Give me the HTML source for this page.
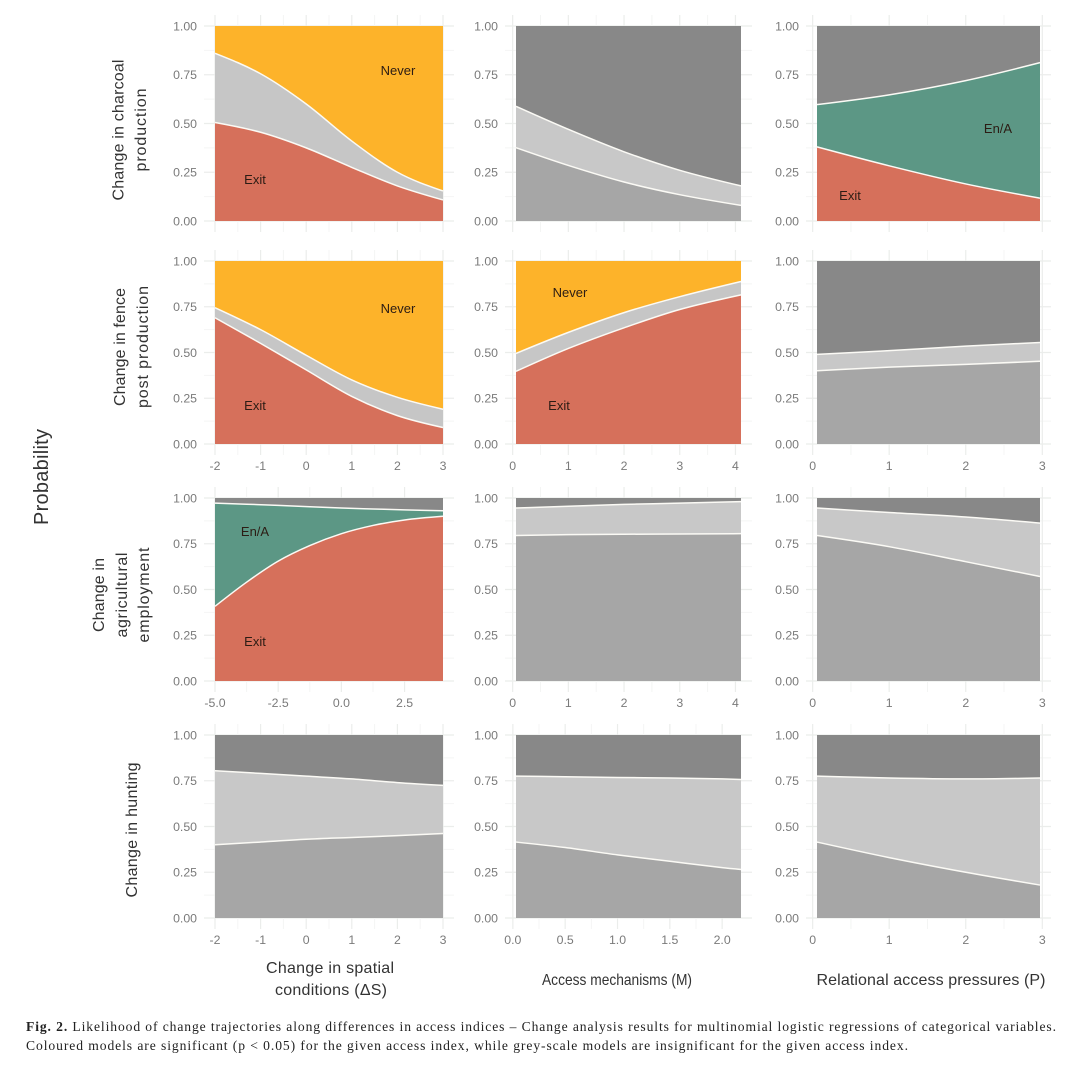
<!DOCTYPE html>
<html lang="en">
<head>
<meta charset="utf-8">
<title>Fig. 2 Likelihood of change trajectories</title>
<style>
html,body{margin:0;padding:0;background:#fff;}
svg{display:block;filter:blur(0.35px);}
.tick{font:12.3px "Liberation Sans",sans-serif;fill:#7a7a7a;}
.title{font-family:"Liberation Sans",sans-serif;font-size:16px;fill:#333;}
.band-label{font:13px "Liberation Sans",sans-serif;fill:#2c1c14;text-anchor:middle;}
.caption{font-family:"Liberation Serif",serif;font-size:13.6px;fill:#222;}
</style>
</head>
<body>
<svg id="figure" xmlns="http://www.w3.org/2000/svg" width="1080" height="1069" viewBox="0 0 1080 1069">
  <rect width="1080" height="1069" fill="#ffffff"/>
  <g id="annotations">
    <text class="title" transform="translate(48,477) rotate(-90)" text-anchor="middle" style="font-size:20px" textLength="96">Probability</text>
    <text class="title" transform="translate(123.5,130) rotate(-90)" text-anchor="middle" textLength="141">Change in charcoal</text>
    <text class="title" transform="translate(146,130) rotate(-90)" text-anchor="middle" textLength="83">production</text>
    <text class="title" transform="translate(125,347) rotate(-90)" text-anchor="middle" textLength="118">Change in fence</text>
    <text class="title" transform="translate(148,347) rotate(-90)" text-anchor="middle" textLength="122">post production</text>
    <text class="title" transform="translate(104,595) rotate(-90)" text-anchor="middle" textLength="74">Change in</text>
    <text class="title" transform="translate(127,595) rotate(-90)" text-anchor="middle" textLength="85">agricultural</text>
    <text class="title" transform="translate(149,595) rotate(-90)" text-anchor="middle" textLength="95">employment</text>
    <text class="title" transform="translate(137,830) rotate(-90)" text-anchor="middle" textLength="135">Change in hunting</text>
    <text class="title" x="330" y="973" text-anchor="middle" textLength="128">Change in spatial</text>
    <text class="title" x="331" y="995" text-anchor="middle" textLength="112">conditions (ΔS)</text>
    <text class="title" x="617" y="985" text-anchor="middle" textLength="150" lengthAdjust="spacingAndGlyphs">Access mechanisms (M)</text>
    <text class="title" x="931" y="985" text-anchor="middle" textLength="229">Relational access pressures (P)</text>
    <text class="band-label" x="398" y="75">Never</text>
    <text class="band-label" x="255" y="184">Exit</text>
    <text class="band-label" x="998" y="133">En/A</text>
    <text class="band-label" x="850" y="200">Exit</text>
    <text class="band-label" x="398" y="313">Never</text>
    <text class="band-label" x="255" y="410">Exit</text>
    <text class="band-label" x="570" y="297">Never</text>
    <text class="band-label" x="559" y="410">Exit</text>
    <text class="band-label" x="255" y="536">En/A</text>
    <text class="band-label" x="255" y="646">Exit</text>
    <text class="caption" x="26" y="1031" textLength="1030"><tspan font-weight="bold">Fig. 2.</tspan>  Likelihood of change trajectories along differences in access indices – Change analysis results for multinomial logistic regressions of categorical variables.</text>
    <text class="caption" x="26" y="1050" textLength="882">Coloured models are significant (p &lt; 0.05) for the given access index, while grey-scale models are insignificant for the given access index.</text>
  </g>
</svg>
<script>
// Shared tick arrays
const yTicks = [0, 0.25, 0.5, 0.75, 1];
const yTickLabels = ['0.00', '0.25', '0.50', '0.75', '1.00'];
const spatialTicks = [-2, -1, 0, 1, 2, 3];
const spatialTickLabels = ['-2', '-1', '0', '1', '2', '3'];
const agriSpatialTicks = [-5, -2.5, 0, 2.5];
const agriSpatialTickLabels = ['-5.0', '-2.5', '0.0', '2.5'];
const mechanismTicks = [0, 1, 2, 3, 4];
const mechanismTickLabels = ['0', '1', '2', '3', '4'];
const huntingMechanismTicks = [0, 0.5, 1, 1.5, 2];
const huntingMechanismTickLabels = ['0.0', '0.5', '1.0', '1.5', '2.0'];
const pressureTicks = [0, 1, 2, 3];
const pressureTickLabels = ['0', '1', '2', '3'];

// Charcoal row
const charcoalSpatialX = [-2, -1, 0, 1, 2, 3];
const charcoalSpatialLower = [0.505, 0.455, 0.375, 0.275, 0.18, 0.108];
const charcoalSpatialUpper = [0.86, 0.755, 0.6, 0.41, 0.25, 0.154];
const charcoalMechanismX = [0.06, 1, 2, 3, 4.1];
const charcoalMechanismLower = [0.376, 0.285, 0.2, 0.135, 0.08];
const charcoalMechanismUpper = [0.588, 0.47, 0.355, 0.26, 0.18];
const charcoalPressureX = [0.057, 1, 2, 2.97];
const charcoalPressureLower = [0.38, 0.283, 0.19, 0.117];
const charcoalPressureUpper = [0.597, 0.647, 0.72, 0.812];

// Fence post row
const fenceSpatialX = [-2, -1, 0, 1, 2, 3];
const fenceSpatialLower = [0.69, 0.55, 0.405, 0.26, 0.155, 0.09];
const fenceSpatialUpper = [0.745, 0.625, 0.485, 0.35, 0.255, 0.19];
const fenceMechanismX = [0.06, 1, 2, 3, 4.1];
const fenceMechanismLower = [0.397, 0.522, 0.635, 0.735, 0.815];
const fenceMechanismUpper = [0.495, 0.61, 0.718, 0.805, 0.888];
const fencePressureX = [0.057, 1, 2, 2.97];
const fencePressureLower = [0.4, 0.42, 0.435, 0.452];
const fencePressureUpper = [0.49, 0.51, 0.535, 0.555];

// Agricultural employment row
const agriSpatialX = [-5, -3.75, -2.5, -1.25, 0, 1.25, 2.5, 4.02];
const agriSpatialLower = [0.408, 0.54, 0.655, 0.74, 0.805, 0.85, 0.88, 0.9];
const agriSpatialUpper = [0.972, 0.966, 0.96, 0.952, 0.945, 0.94, 0.935, 0.93];
const agriMechanismX = [0.06, 1, 2, 3, 4.1];
const agriMechanismLower = [0.795, 0.8, 0.802, 0.803, 0.805];
const agriMechanismUpper = [0.945, 0.955, 0.965, 0.972, 0.98];
const agriPressureX = [0.057, 1, 2, 2.97];
const agriPressureLower = [0.795, 0.734, 0.652, 0.571];
const agriPressureUpper = [0.945, 0.921, 0.896, 0.863];

// Hunting row
const huntingSpatialX = [-2, -1, 0, 1, 2, 3];
const huntingSpatialLower = [0.4, 0.415, 0.43, 0.44, 0.45, 0.462];
const huntingSpatialUpper = [0.805, 0.79, 0.775, 0.76, 0.74, 0.725];
const huntingMechanismX = [0.03, 0.5, 1, 1.5, 2, 2.18];
const huntingMechanismLower = [0.415, 0.385, 0.345, 0.31, 0.275, 0.265];
const huntingMechanismUpper = [0.775, 0.772, 0.768, 0.765, 0.76, 0.757];
const huntingPressureX = [0.057, 1, 2, 2.97];
const huntingPressureLower = [0.415, 0.33, 0.25, 0.18];
const huntingPressureUpper = [0.775, 0.765, 0.76, 0.765];

const RED = '#d6705b', ORANGE = '#fdb32a', SILVER = '#c6c6c6', GREEN = '#5c9785';
const GREY_LOW = '#a6a6a6', GREY_MID = '#c8c8c8', GREY_TOP = '#888888';
const warm = [RED, SILVER, ORANGE];
const teal = [RED, GREEN, GREY_TOP];
const greys = [GREY_LOW, GREY_MID, GREY_TOP];

const rowBoxes = [[26, 221], [261, 444], [498, 681], [735, 918]];
const colBoxes = [[215, 443], [516, 741], [817, 1040]];

const panels = [
  {name: 'charcoal-spatial', r: 0, c: 0, x: charcoalSpatialX, lo: charcoalSpatialLower, up: charcoalSpatialUpper, ticks: spatialTicks, labels: null, fills: warm},
  {name: 'charcoal-mechanisms', r: 0, c: 1, x: charcoalMechanismX, lo: charcoalMechanismLower, up: charcoalMechanismUpper, ticks: mechanismTicks, labels: null, fills: greys},
  {name: 'charcoal-pressures', r: 0, c: 2, x: charcoalPressureX, lo: charcoalPressureLower, up: charcoalPressureUpper, ticks: pressureTicks, labels: null, fills: teal},
  {name: 'fence-spatial', r: 1, c: 0, x: fenceSpatialX, lo: fenceSpatialLower, up: fenceSpatialUpper, ticks: spatialTicks, labels: spatialTickLabels, fills: warm},
  {name: 'fence-mechanisms', r: 1, c: 1, x: fenceMechanismX, lo: fenceMechanismLower, up: fenceMechanismUpper, ticks: mechanismTicks, labels: mechanismTickLabels, fills: warm},
  {name: 'fence-pressures', r: 1, c: 2, x: fencePressureX, lo: fencePressureLower, up: fencePressureUpper, ticks: pressureTicks, labels: pressureTickLabels, fills: greys},
  {name: 'agriculture-spatial', r: 2, c: 0, x: agriSpatialX, lo: agriSpatialLower, up: agriSpatialUpper, ticks: agriSpatialTicks, labels: agriSpatialTickLabels, fills: teal},
  {name: 'agriculture-mechanisms', r: 2, c: 1, x: agriMechanismX, lo: agriMechanismLower, up: agriMechanismUpper, ticks: mechanismTicks, labels: mechanismTickLabels, fills: greys},
  {name: 'agriculture-pressures', r: 2, c: 2, x: agriPressureX, lo: agriPressureLower, up: agriPressureUpper, ticks: pressureTicks, labels: pressureTickLabels, fills: greys},
  {name: 'hunting-spatial', r: 3, c: 0, x: huntingSpatialX, lo: huntingSpatialLower, up: huntingSpatialUpper, ticks: spatialTicks, labels: spatialTickLabels, fills: greys},
  {name: 'hunting-mechanisms', r: 3, c: 1, x: huntingMechanismX, lo: huntingMechanismLower, up: huntingMechanismUpper, ticks: huntingMechanismTicks, labels: huntingMechanismTickLabels, fills: greys},
  {name: 'hunting-pressures', r: 3, c: 2, x: huntingPressureX, lo: huntingPressureLower, up: huntingPressureUpper, ticks: pressureTicks, labels: pressureTickLabels, fills: greys}
];

const NS = 'http://www.w3.org/2000/svg';
const svg = document.getElementById('figure');
const annotations = document.getElementById('annotations');

function make(tag, parent, props) {
  const el = document.createElementNS(NS, tag);
  Object.keys(props).forEach(function (k) { el.setAttribute(k, props[k]); });
  parent.appendChild(el);
  return el;
}

// Hermite spline through points, with slopes that respect uneven spacing (no leading M)
function curveSegments(pts) {
  const n = pts.length;
  const d = [];
  for (let i = 0; i < n - 1; i++) d.push((pts[i + 1][1] - pts[i][1]) / (pts[i + 1][0] - pts[i][0]));
  const m = [];
  for (let i = 1; i < n - 1; i++) m[i] = (pts[i + 1][1] - pts[i - 1][1]) / (pts[i + 1][0] - pts[i - 1][0]);
  m[0] = n > 2 ? (3 * d[0] - m[1]) / 2 : d[0];
  m[n - 1] = n > 2 ? (3 * d[n - 2] - m[n - 2]) / 2 : d[n - 2];
  let out = '';
  for (let i = 0; i < n - 1; i++) {
    const h = (pts[i + 1][0] - pts[i][0]) / 3;
    out += 'C' + (pts[i][0] + h).toFixed(2) + ' ' + (pts[i][1] + m[i] * h).toFixed(2) + ' ' +
      (pts[i + 1][0] - h).toFixed(2) + ' ' + (pts[i + 1][1] - m[i + 1] * h).toFixed(2) + ' ' +
      pts[i + 1][0].toFixed(2) + ' ' + pts[i + 1][1].toFixed(2);
  }
  return out;
}

panels.forEach(function (p) {
  const top = rowBoxes[p.r][0], bottom = rowBoxes[p.r][1];
  const left = colBoxes[p.c][0], right = colBoxes[p.c][1];
  const xMin = p.x[0], xMax = p.x[p.x.length - 1];
  const sx = function (v) { return left + (v - xMin) / (xMax - xMin) * (right - left); };
  const sy = function (v) { return bottom - v * (bottom - top); };

  const g = document.createElementNS(NS, 'g');
  
  
  svg.insertBefore(g, annotations);

  // Grid lines
  const gx0 = left - 11, gx1 = right + 11, gy0 = top - 11, gy1 = bottom + 11;
  yTicks.forEach(function (t, i) {
    const line = make('line', g, {x1: gx0, x2: gx1, y1: sy(t), y2: sy(t), stroke: '#ebedeb', 'stroke-width': 1.2});
    
    
    if (i < yTicks.length - 1) {
      const mid = (t + yTicks[i + 1]) / 2;
      const minor = make('line', g, {x1: gx0, x2: gx1, y1: sy(mid), y2: sy(mid), stroke: '#f4f5f4', 'stroke-width': 1});
      
      
    }
  });
  p.ticks.forEach(function (t, i) {
    const line = make('line', g, {x1: sx(t), x2: sx(t), y1: gy0, y2: gy1, stroke: '#ebedeb', 'stroke-width': 1.2});
    
    
    if (i < p.ticks.length - 1) {
      const mid = (t + p.ticks[i + 1]) / 2;
      const minor = make('line', g, {x1: sx(mid), x2: sx(mid), y1: gy0, y2: gy1, stroke: '#f4f5f4', 'stroke-width': 1});
      
      
    }
  });

  // Bands
  const loPts = p.x.map(function (v, i) { return [sx(v), sy(p.lo[i])]; });
  const upPts = p.x.map(function (v, i) { return [sx(v), sy(p.up[i])]; });
  const loCurve = curveSegments(loPts), upCurve = curveSegments(upPts);
  const start = function (pts) { return 'M' + pts[0][0].toFixed(2) + ' ' + pts[0][1].toFixed(2); };

  const midBand = make('path', g, {d: start(loPts) + loCurve + 'L' + right + ' ' + top + 'L' + left + ' ' + top + 'Z', fill: p.fills[1]});
  
  

  const topBand = make('path', g, {d: start(upPts) + upCurve + 'L' + right + ' ' + top + 'L' + left + ' ' + top + 'Z', fill: p.fills[2]});
  
  

  const lowBand = make('path', g, {d: start(loPts) + loCurve + 'L' + right + ' ' + bottom + 'L' + left + ' ' + bottom + 'Z', fill: p.fills[0]});
  
  

  const upLine = make('path', g, {d: start(upPts) + upCurve, fill: 'none', stroke: '#fbfaf5', 'stroke-width': 1.5});
  
  

  const loLine = make('path', g, {d: start(loPts) + loCurve, fill: 'none', stroke: '#fbfaf5', 'stroke-width': 1.5});
  
  

  // Y tick labels
  yTicks.forEach(function (t, i) {
    const label = make('text', g, {x: left - 18, y: sy(t) + 4.4, 'text-anchor': 'end', class: 'tick'});
    label.textContent = yTickLabels[i];
    
    
  });

  // X tick labels
  if (p.labels) {
    p.ticks.forEach(function (t, i) {
      const label = make('text', g, {x: sx(t), y: bottom + 26, 'text-anchor': 'middle', class: 'tick'});
      label.textContent = p.labels[i];
      
      
    });
  }
});
</script>
</body>
</html>
